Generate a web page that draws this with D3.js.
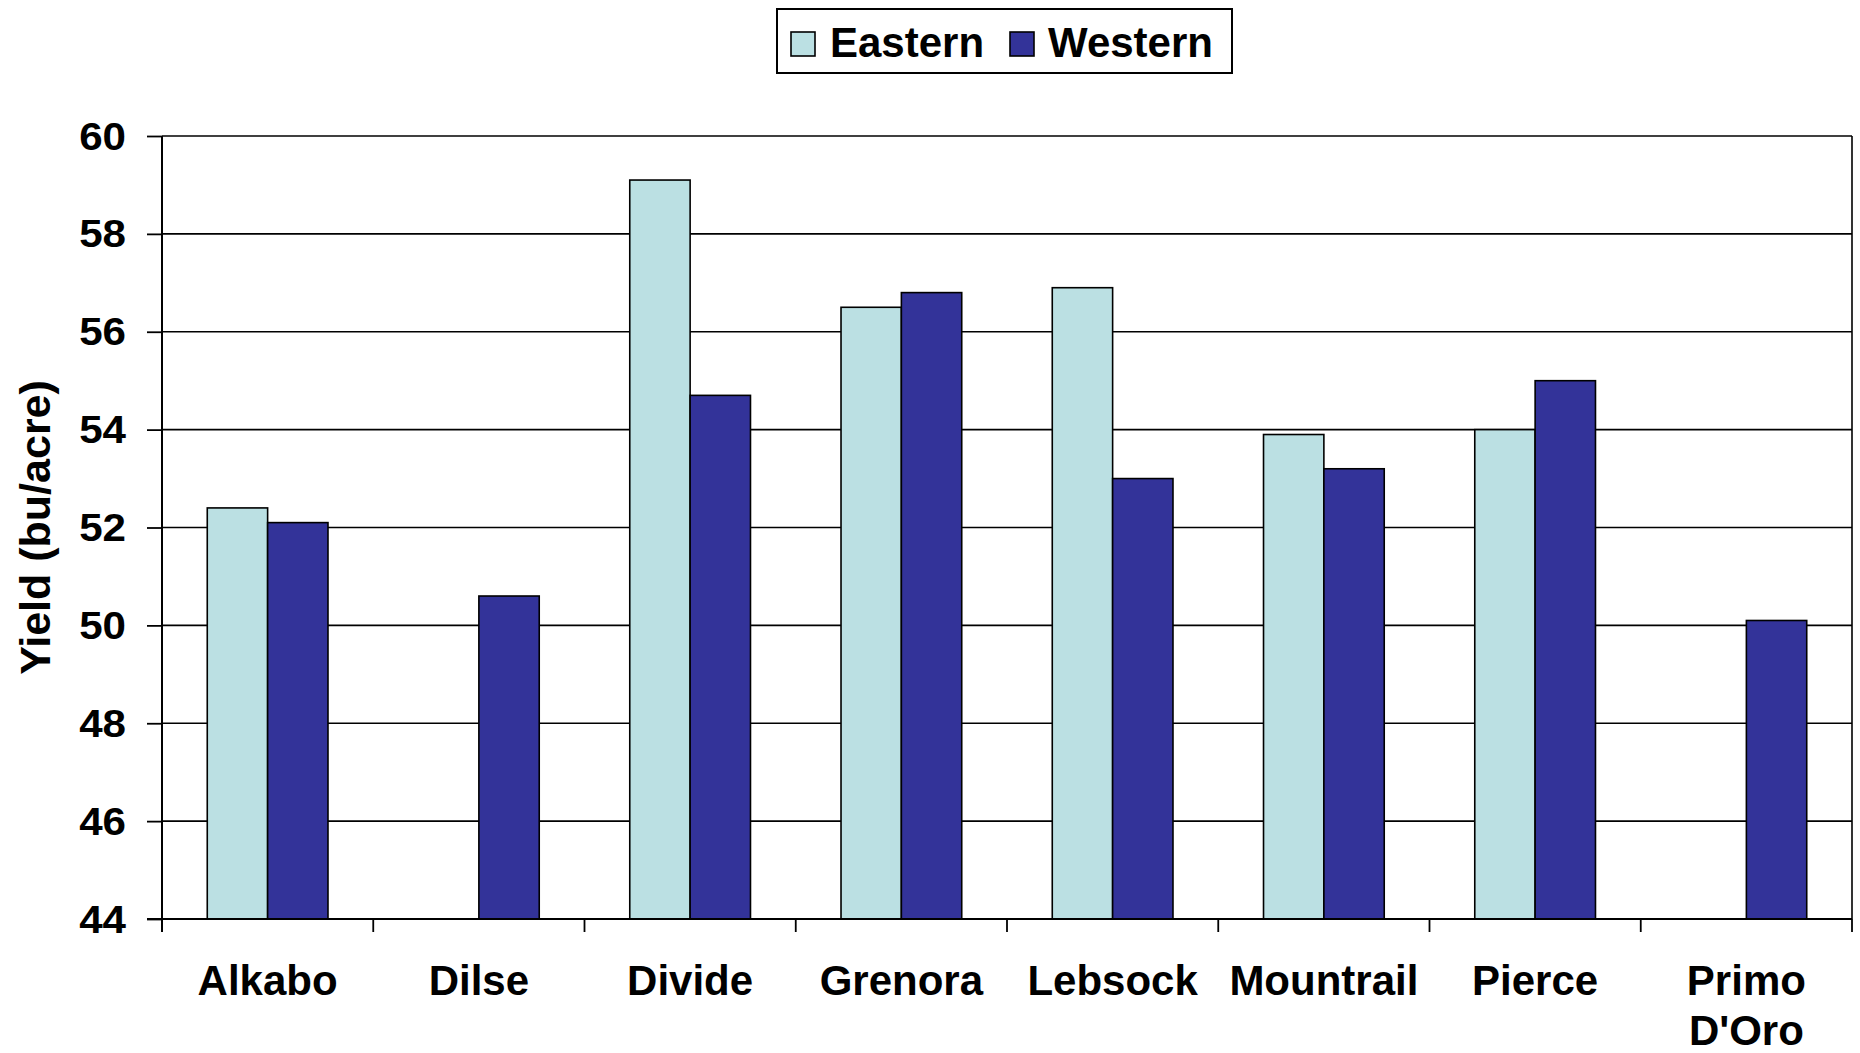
<!DOCTYPE html>
<html>
<head>
<meta charset="utf-8">
<script src="https://cdn.jsdelivr.net/npm/d3@7"></script>
<style>
  html, body { margin: 0; padding: 0; background: #fff; }
  svg { display: block; }
  text { font-family: "Liberation Sans", Arial, sans-serif; font-weight: bold; fill: #000; }
</style>
</head>
<body>
<svg id="chart" width="1860" height="1053"></svg>
<script>
const categories = ["Alkabo", "Dilse", "Divide", "Grenora", "Lebsock", "Mountrail", "Pierce", "Primo D'Oro"];
const seriesNames = ["Eastern", "Western"];
const easternValues = [52.4, null, 59.1, 56.5, 56.9, 53.9, 54.0, null];
const westernValues = [52.1, 50.6, 54.7, 56.8, 53.0, 53.2, 55.0, 50.1];
const yTicks = [44, 46, 48, 50, 52, 54, 56, 58, 60];
const seriesColors = ["#BBE0E3", "#333399"];
const yTitle = "Yield (bu/acre)";

(function () {
const svg = d3.select("#chart");
const pLeft = 162, pRight = 1852, pTop = 136, pBottom = 919;

const x0 = d3.scaleBand().domain(categories).range([pLeft, pRight]).paddingInner(0).paddingOuter(0);
const x1 = d3.scaleBand().domain(seriesNames).range([0, x0.bandwidth()]).paddingInner(0).paddingOuter(0.75);
const y = d3.scaleLinear().domain([44, 60]).range([pBottom, pTop]);

const seriesValues = [easternValues, westernValues];

// gridlines
svg.append("g").selectAll("line").data(yTicks.filter(t => t > 44)).join("line")
  .attr("x1", pLeft).attr("x2", pRight)
  .attr("y1", d => y(d)).attr("y2", d => y(d))
  .attr("stroke", "#000").attr("stroke-width", 1.6);

// right border
svg.append("line").attr("x1", pRight).attr("x2", pRight).attr("y1", pTop).attr("y2", pBottom)
  .attr("stroke", "#000").attr("stroke-width", 1.6);

// bars
const groups = svg.append("g").selectAll("g").data(categories).join("g")
  .attr("transform", d => `translate(${x0(d)},0)`);
groups.selectAll("rect")
  .data((c, i) => seriesNames.map((s, si) => ({ s, si, v: seriesValues[si][i] })).filter(d => d.v != null))
  .join("rect")
  .attr("x", d => x1(d.s))
  .attr("width", x1.bandwidth())
  .attr("y", d => y(d.v))
  .attr("height", d => y(44) - y(d.v))
  .attr("fill", d => seriesColors[d.si])
  .attr("stroke", "#000").attr("stroke-width", 1.6);

// y axis
const yAxis = svg.append("g").attr("transform", `translate(${pLeft},0)`)
  .call(d3.axisLeft(y).tickValues(yTicks).tickSize(15).tickFormat(d3.format("d")));
yAxis.select(".domain").remove();
yAxis.selectAll(".tick line").attr("stroke", "#000").attr("stroke-width", 1.8);
yAxis.selectAll(".tick text")
  .attr("x", 0).attr("dy", null)
  .attr("transform", "translate(-36,13) scale(1.08,1)")
  .attr("text-anchor", "end")
  .attr("fill", "#000")
  .style("font-size", "39px")
  .style("font-family", "'Liberation Sans', Arial, sans-serif")
  .style("font-weight", "bold");
svg.append("line").attr("x1", pLeft).attr("x2", pLeft).attr("y1", pTop).attr("y2", pBottom + 13)
  .attr("stroke", "#000").attr("stroke-width", 2);

// x axis
svg.append("line").attr("x1", pLeft - 15).attr("x2", pRight).attr("y1", pBottom).attr("y2", pBottom)
  .attr("stroke", "#000").attr("stroke-width", 2);
const boundaries = categories.map(c => x0(c)).concat([pRight]);
svg.append("g").selectAll("line").data(boundaries.slice(1)).join("line")
  .attr("x1", d => d).attr("x2", d => d).attr("y1", pBottom).attr("y2", pBottom + 13)
  .attr("stroke", "#000").attr("stroke-width", 1.8);

const xl = svg.append("g").selectAll("text").data(categories).join("text")
  .attr("x", d => x0(d) + x0.bandwidth() / 2)
  .attr("y", 995)
  .attr("text-anchor", "middle")
  .style("font-size", "42px");
xl.each(function (d) {
  const parts = d === "Primo D'Oro" ? ["Primo", "D'Oro"] : [d];
  const t = d3.select(this);
  parts.forEach((p, i) => {
    t.append("tspan").attr("x", x0(d) + x0.bandwidth() / 2).attr("dy", i === 0 ? 0 : 50).text(p);
  });
});

// y title
svg.append("text")
  .attr("transform", `translate(50,${(pTop + pBottom) / 2}) rotate(-90)`)
  .attr("text-anchor", "middle")
  .style("font-size", "43px")
  .text(yTitle);

// legend
const lg = svg.append("g");
lg.append("rect").attr("x", 777).attr("y", 9).attr("width", 455).attr("height", 64)
  .attr("fill", "#fff").attr("stroke", "#000").attr("stroke-width", 2);
const legendItems = [{ name: seriesNames[0], sx: 791, tx: 830 }, { name: seriesNames[1], sx: 1010, tx: 1048 }];
legendItems.forEach((it, i) => {
  lg.append("rect").attr("x", it.sx).attr("y", 32).attr("width", 24).attr("height", 24)
    .attr("fill", seriesColors[i]).attr("stroke", "#000").attr("stroke-width", 1.6);
  lg.append("text").attr("x", it.tx).attr("y", 57).style("font-size", "42px").text(it.name);
});
})();
</script>
</body>
</html>
